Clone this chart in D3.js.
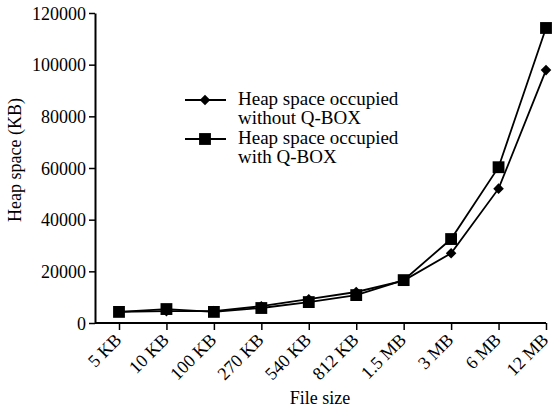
<!DOCTYPE html>
<html><head><meta charset="utf-8">
<script src="https://cdn.jsdelivr.net/npm/d3@7"></script>
<style>body{margin:0;background:#fff}svg{display:block}text{font-family:"Liberation Serif","Times New Roman",serif;fill:#000}</style>
</head><body><svg id="c" width="553" height="410"></svg>
<script>
const categories = ["5 KB","10 KB","100 KB","270 KB","540 KB","812 KB","1.5 MB","3 MB","6 MB","12 MB"];
const withoutQBox = [4300,4600,4600,6500,9200,12000,16400,27000,52000,97900];
const withQBox = [4300,5400,4300,5800,8100,10800,16600,32500,60300,114200];
const yTicks = [0,20000,40000,60000,80000,100000,120000];
const seriesNames = ["Heap space occupied\nwithout Q-BOX","Heap space occupied\nwith Q-BOX"];

const svg = d3.select("#c");
const x0 = 95, x1 = 546, yTop = 13, yBot = 323;
const x = d3.scalePoint().domain(categories).range([119, x1]);
const y = d3.scaleLinear().domain([0,120000]).range([yBot, yTop]);

// y axis
const ya = svg.append("g").attr("transform",`translate(${x0},0)`)
  .call(d3.axisLeft(y).tickValues(yTicks).tickSize(6).tickSizeOuter(0).tickPadding(3).tickFormat(d3.format("d")));
ya.select(".domain").attr("stroke","#000").attr("stroke-width",2);
ya.selectAll(".tick line").attr("stroke","#000").attr("stroke-width",1.5);
ya.selectAll("text").style("font-size","18px").style("font-family","Liberation Serif").attr("dy","0.34em");

// x axis
const xa = svg.append("g").attr("transform",`translate(0,${yBot})`)
  .call(d3.axisBottom(x).tickSize(7).tickSizeOuter(0));
xa.select(".domain").attr("d",`M${x0},0H${x1}`).attr("stroke","#000").attr("stroke-width",2);
xa.selectAll(".tick line").attr("stroke","#000").attr("stroke-width",1.5);
xa.selectAll("text").style("font-size","18px").style("font-family","Liberation Serif")
  .attr("text-anchor","end").attr("dy","0").attr("y",0)
  .attr("transform","translate(3,18) rotate(-45)");

// titles
svg.append("text").attr("x",320).attr("y",404).attr("text-anchor","middle").style("font-size","18px").text("File size");
svg.append("text").attr("transform","translate(21,160) rotate(-90)").attr("text-anchor","middle").style("font-size","18px").text("Heap space (KB)");

const line = d3.line().x((d,i)=>x(categories[i])).y(d=>y(d));
const diamond = d3.symbol().type(d3.symbolSquare).size(56);
const square = d3.symbol().type(d3.symbolSquare).size(140);

[[withoutQBox, diamond, 45],[withQBox, square, 0]].forEach(([vals, sym, rot])=>{
  svg.append("path").datum(vals).attr("d",line).attr("fill","none").attr("stroke","#000").attr("stroke-width",1.8);
  svg.selectAll(null).data(vals).enter().append("path")
    .attr("d",sym).attr("transform",(d,i)=>`translate(${x(categories[i])},${y(d)}) rotate(${rot})`).attr("fill","#000");
});

// legend
const leg = svg.append("g");
[[diamond,100,0,45],[square,139,1,0]].forEach(([sym,ly,k,rot])=>{
  leg.append("line").attr("x1",185).attr("x2",226).attr("y1",ly).attr("y2",ly).attr("stroke","#000").attr("stroke-width",1.8);
  leg.append("path").attr("d",sym).attr("transform",`translate(205,${ly}) rotate(${rot})`).attr("fill","#000");
  const lines = seriesNames[k].split("\n");
  lines.forEach((t,j)=>{
    leg.append("text").attr("x",238).attr("y",ly+5+j*19).style("font-size","19px").text(t);
  });
});
</script></body></html>
